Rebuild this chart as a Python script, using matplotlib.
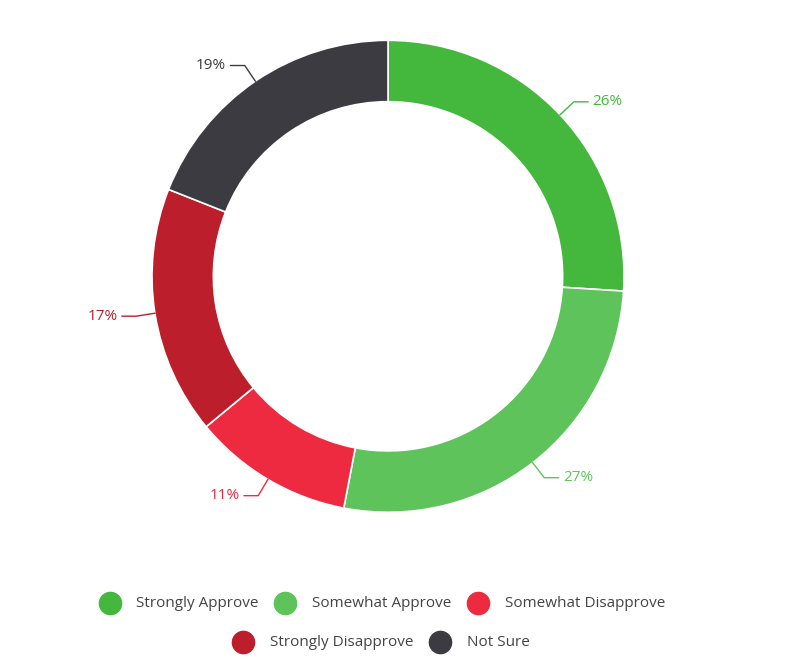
import matplotlib.pyplot as plt
import numpy as np

categories = ["Strongly Approve", "Somewhat Approve", "Somewhat Disapprove", "Strongly Disapprove", "Not Sure"]
values = [26, 27, 11, 17, 19]
colors = ["#43b83d", "#5dc35a", "#ee2a40", "#bd1e2b", "#3c3b41"]

plt.rcParams['font.family'] = ['Open Sans', 'DejaVu Sans']
fig = plt.figure(figsize=(7.89, 6.69), dpi=100)
ax = fig.add_axes([0.0, 0.199, 1.0, 0.776])
wedges, _ = ax.pie(values, colors=colors, startangle=90, counterclock=False,
                   wedgeprops=dict(width=0.26, edgecolor='white', linewidth=1.2), radius=1.0)
ax.set_aspect('auto')
ax.set_xlim(-1.644, 1.699)
ax.set_ylim(-1.1, 1.1)

for w, v, c in zip(wedges, values, colors):
    ang = np.deg2rad((w.theta1 + w.theta2) / 2)
    x, y = np.cos(ang), np.sin(ang)
    p1 = (1.0 * x, 1.0 * y)
    p2 = (1.08 * x, 1.08 * y)
    sgn = 1 if x >= 0 else -1
    p3 = (p2[0] + 0.06 * sgn, p2[1])
    ax.plot([p1[0], p2[0], p3[0]], [p1[1], p2[1], p3[1]], color=c, lw=1)
    ax.text(p3[0] + 0.02 * sgn, p3[1], f"{v}%", color=c, fontsize=11,
            ha='left' if sgn > 0 else 'right', va='center')

rows = [categories[:3], categories[3:]]
rowcols = [colors[:3], colors[3:]]
ys = [0.098, 0.040]
xs_rows = [[0.139, 0.361, 0.606], [0.308, 0.558]]
for names, cols, yy, xs in zip(rows, rowcols, ys, xs_rows):
    for n, c, xx in zip(names, cols, xs):
        fig.add_artist(plt.Line2D([xx], [yy], marker='o', markersize=16, color=c,
                                  transform=fig.transFigure))
        fig.text(xx + 0.034, yy, n, va='center', ha='left', fontsize=11, color='#444444')
fig.savefig("out.png", dpi=100, facecolor='white')
